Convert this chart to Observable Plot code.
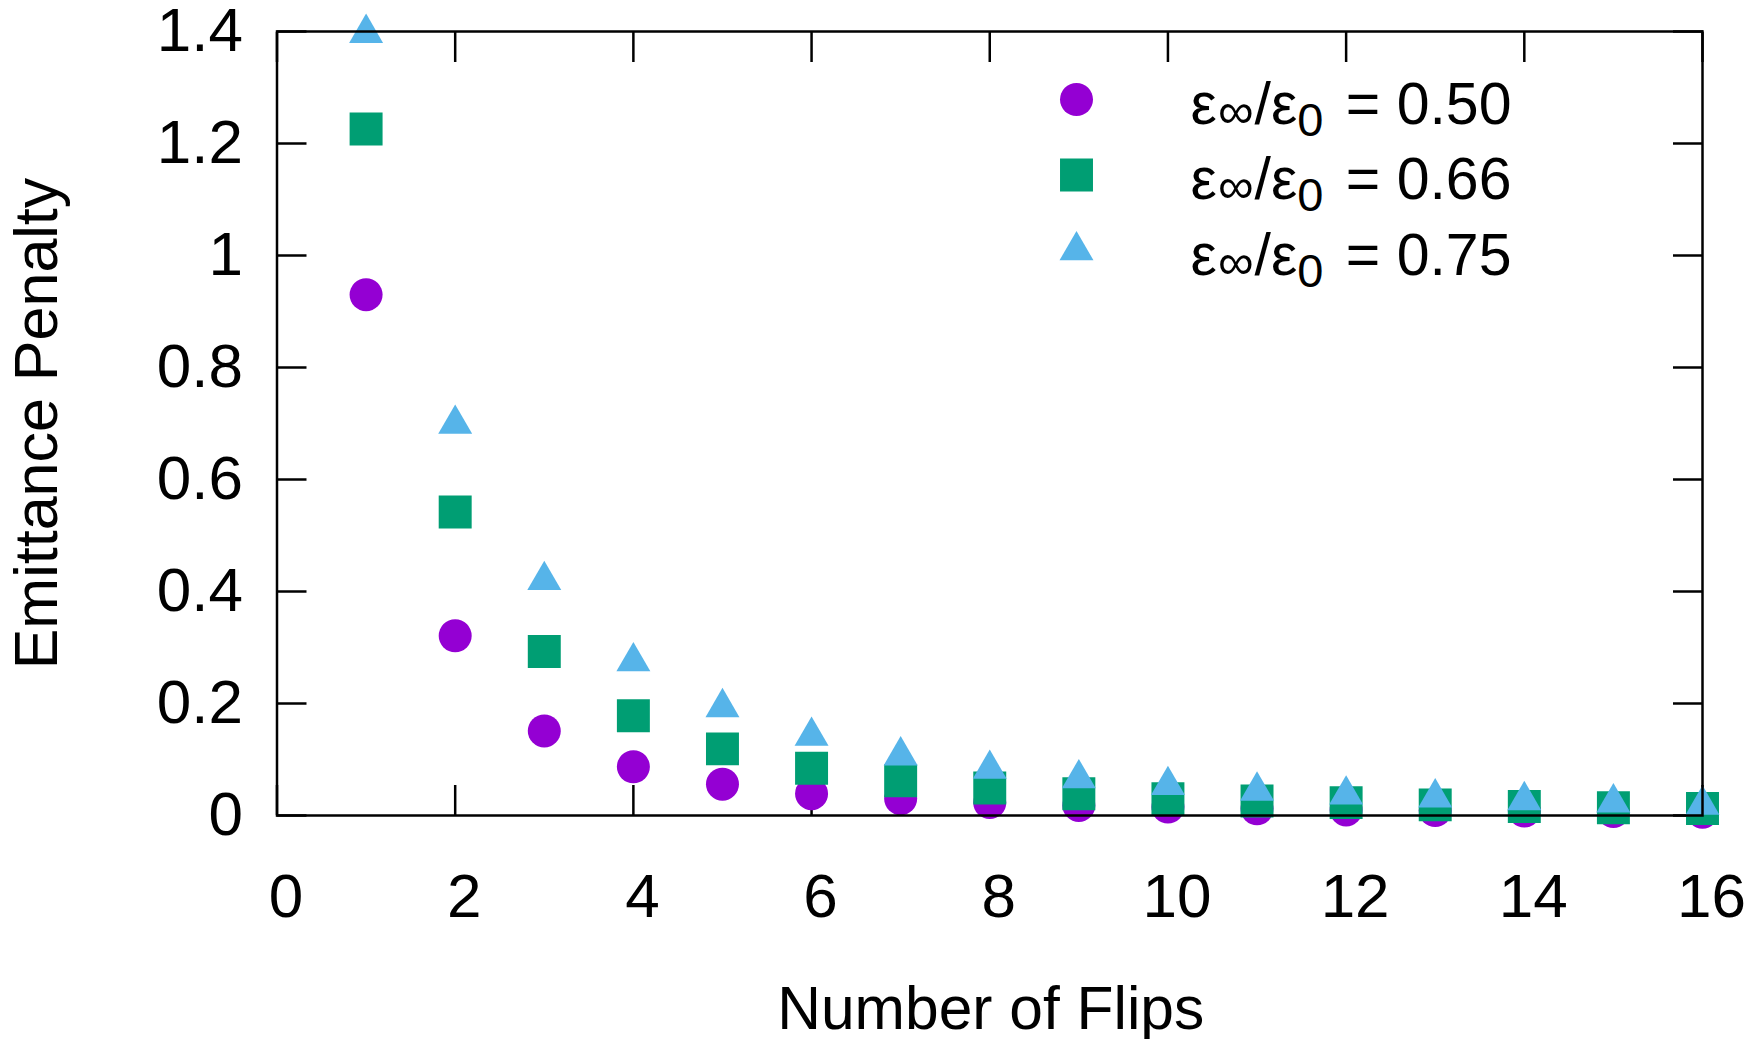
<!DOCTYPE html>
<html>
<head>
<meta charset="utf-8">
<script src="https://cdn.jsdelivr.net/npm/d3@7"></script>
<script src="https://cdn.jsdelivr.net/npm/@observablehq/plot@0.6"></script>
<style>
  html, body { margin: 0; padding: 0; background: #ffffff; }
  #chart { width: 1748px; height: 1039px; }
</style>
</head>
<body>
<div id="chart"></div>
<script>
// ---- data ----
const flips = [1, 2, 3, 4, 5, 6, 7, 8, 9, 10, 11, 12, 13, 14, 15, 16];
const penalty050 = [0.930, 0.321, 0.151, 0.087, 0.056, 0.039, 0.030, 0.023, 0.018, 0.015, 0.012, 0.010, 0.009, 0.008, 0.007, 0.006];
const penalty066 = [1.226, 0.542, 0.293, 0.178, 0.119, 0.0845, 0.062, 0.049, 0.039, 0.030, 0.026, 0.023, 0.019, 0.016, 0.014, 0.0125];
const penalty075 = [1.397, 0.699, 0.420, 0.275, 0.193, 0.142, 0.107, 0.083, 0.066, 0.054, 0.044, 0.037, 0.032, 0.027, 0.023, 0.019];
const seriesNames = ["0.50", "0.66", "0.75"];
const xTicks = [0, 2, 4, 6, 8, 10, 12, 14, 16];
const yTicks = [0, 0.2, 0.4, 0.6, 0.8, 1, 1.2, 1.4];
const xLabel = "Number of Flips";
const yLabel = "Emittance Penalty";

// ---- styling ----
const seriesStyle = [
  {fill: "#9400D3", symbol: "circle", r: 16.5},
  {fill: "#009E73", symbol: "square", r: 18.6},
  {fill: "#56B4E9", symbol: "triangle", r: 12.6}
];
const FONT = "'Liberation Sans', Arial, Helvetica, sans-serif";

const seriesValues = [penalty050, penalty066, penalty075];
const rows = seriesNames.flatMap((name, s) =>
  flips.map((f, i) => ({series: name, flips: f, penalty: seriesValues[s][i]}))
);

const dotMarks = seriesNames.map((name, s) =>
  Plot.dot(rows.filter(d => d.series === name), {
    x: "flips", y: "penalty",
    symbol: seriesStyle[s].symbol, fill: seriesStyle[s].fill, r: seriesStyle[s].r,
    stroke: "none"
  })
);

const legendMarks = seriesNames.flatMap((name, s) => [
  Plot.dot([name], {
    x: null, y: null, frameAnchor: "top-left", dx: 799.5, dy: 68 + s * 75.5,
    symbol: seriesStyle[s].symbol, fill: seriesStyle[s].fill, r: seriesStyle[s].r, stroke: "none"
  }),
  Plot.text([name], {
    x: null, y: null, frameAnchor: "top-left", dx: 1234.5, dy: 92.3 + s * 75.5,
    text: d => d, textAnchor: "end", lineAnchor: "bottom", fontSize: 59, fill: "black"
  })
]);

const plot = Plot.plot({
  width: 1748,
  height: 1039,
  marginLeft: 276.5,
  marginRight: 46,
  marginTop: 31,
  marginBottom: 224,
  x: {domain: [0, 16]},
  y: {domain: [0, 1.4]},
  style: {fontFamily: FONT, fontSize: "62px", color: "black", background: "white", overflow: "visible"},
  marks: [
    // inward ticks on all four sides (behind the points)
    Plot.axisX({anchor: "bottom", ticks: xTicks, tickSize: -30, fill: "none", label: null, strokeWidth: 2.5, stroke: "black"}),
    Plot.axisX({anchor: "top", ticks: xTicks, tickSize: -30, fill: "none", label: null, strokeWidth: 2.5, stroke: "black"}),
    Plot.axisY({anchor: "left", ticks: yTicks, tickSize: -30, fill: "none", label: null, strokeWidth: 2.5, stroke: "black"}),
    Plot.axisY({anchor: "right", ticks: yTicks, tickSize: -30, fill: "none", label: null, strokeWidth: 2.5, stroke: "black"}),
    ...dotMarks,
    Plot.frame({stroke: "black", strokeWidth: 2.5}),
    // tick labels
    Plot.axisX({anchor: "bottom", ticks: xTicks, tickSize: 0, tickPadding: 57, dx: 9, label: null,
      fontSize: 62, fill: "black", tickFormat: d => String(d)}),
    Plot.axisY({anchor: "left", ticks: yTicks, tickSize: 0, tickPadding: 34, label: null,
      fontSize: 62, fill: "black", tickFormat: d => String(d)}),
    // axis titles
    Plot.text([xLabel], {x: null, y: null, frameAnchor: "bottom", dy: 213, dx: 1, text: d => d,
      lineAnchor: "bottom", textAnchor: "middle", fontSize: 60.5, fill: "black"}),
    Plot.text([yLabel], {x: null, y: null, frameAnchor: "left", dx: -220, rotate: -90, text: d => d,
      lineAnchor: "bottom", textAnchor: "middle", fontSize: 61, fill: "black"}),
    ...legendMarks
  ]
});

// rich legend labels: ε∞/ε0 = value (with subscripts)
const svgNS = "http://www.w3.org/2000/svg";
plot.querySelectorAll("text").forEach(t => {
  const val = t.textContent;
  if (!seriesNames.includes(val)) return;
  t.textContent = "";
  const parts = [
    ["ε", 0, null, 0],
    ["∞", 4, 50, 1],
    ["/ε", -4, null, 1],
    ["0", 12, 47, 0],
    [" = " + val, -12, null, 6]
  ];
  parts.forEach(([s, dy, fs, dx]) => {
    const ts = document.createElementNS(svgNS, "tspan");
    ts.textContent = s;
    if (dy) ts.setAttribute("dy", dy);
    if (dx) ts.setAttribute("dx", dx);
    if (fs) ts.setAttribute("font-size", fs);
    t.appendChild(ts);
  });
});

document.getElementById("chart").appendChild(plot);
</script>
</body>
</html>
